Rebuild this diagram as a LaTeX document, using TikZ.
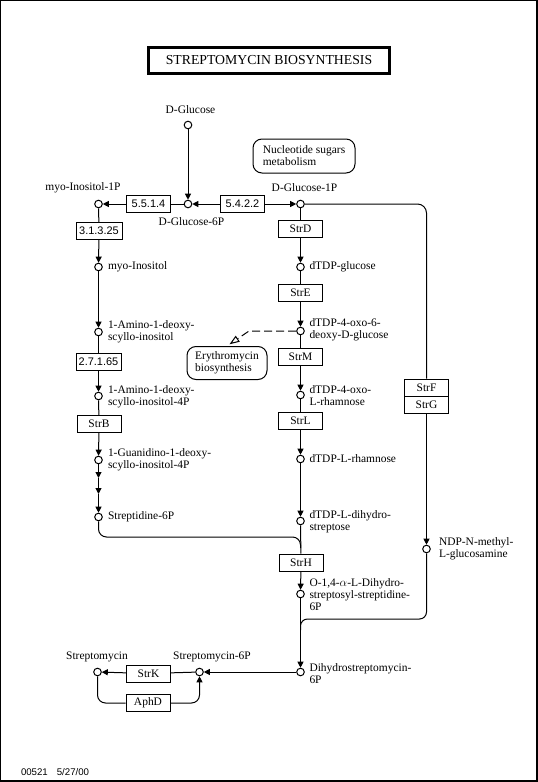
\documentclass[tikz,border=0pt]{standalone}
\usepackage{fontspec}
\setmainfont{Liberation Serif}
\setsansfont{Liberation Sans}
\usetikzlibrary{arrows.meta}
\newcommand\lblfont{\fontsize{11.5}{12}\selectfont}
\newcommand\ecfont{\sffamily\fontsize{11}{12}\selectfont}
\tikzset{
    cpd/.style={circle,draw,fill=white,inner sep=0pt,minimum size=7.6bp},
    enz/.style={draw,fill=white,inner sep=0pt,minimum width=44bp,minimum height=17bp,font=\lblfont},
    ec/.style={enz,font=\ecfont},
    pmap/.style={draw,rounded corners=9bp,align=left,inner sep=0pt,font=\lblfont},
    lbl/.style={inner sep=1bp,align=left,font=\lblfont},
    arr/.style={-{Triangle[length=6bp,width=6bp]}},
    maplink/.style={dash pattern=on 8bp off 4bp,-{Triangle[open,length=10bp,width=7bp]},shorten >=3bp},
}
\begin{document}
\begin{tikzpicture}[x=1bp,y=-1bp,line width=1bp]
    \useasboundingbox (0,0) rectangle (538,782);
    \draw [line width=1.5bp] (0.75,0.75) rectangle (537,781);
    \node [draw,line width=3bp,minimum width=241bp,minimum height=26bp,inner sep=0pt,font=\fontsize{13.8}{14}\selectfont] (title) at (269,60.5) {STREPTOMYCIN BIOSYNTHESIS};

    \node [cpd] (glc) at (188,125) {};
    \node [cpd] (myoonep) at (98.5,204) {};
    \node [cpd] (gsixp) at (188,204) {};
    \node [cpd] (gonep) at (300.5,204) {};
    \node [cpd] (myo) at (98.5,267) {};
    \node [cpd] (amino) at (98.5,332) {};
    \node [cpd] (aminop) at (98.5,396) {};
    \node [cpd] (guan) at (98.5,460) {};
    \node [cpd] (strdn) at (98.5,517) {};
    \node [cpd] (dtdpglc) at (300.5,267) {};
    \node [cpd] (oxodeoxy) at (300.5,331) {};
    \node [cpd] (oxorham) at (300.5,395) {};
    \node [cpd] (rham) at (300.5,459) {};
    \node [cpd] (dihydrose) at (300.5,521) {};
    \node [cpd] (dhsss) at (300.5,594) {};
    \node [cpd] (ndp) at (426.5,549) {};
    \node [cpd] (dhsm) at (300.5,672) {};
    \node [cpd] (smsixp) at (199.5,672) {};
    \node [cpd] (sm) at (97.5,672) {};
    \coordinate (ms1) at (98.5,478);
    \coordinate (ms2) at (98.5,494);
    \coordinate (mergea) at (300.5,548);
    \coordinate (mergeb) at (300.5,630);

    \node [ec] (e5514) at (148.5,204) {5.5.1.4};
    \node [ec] (e5422) at (242.5,204) {5.4.2.2};
    \node [ec,minimum width=46bp] (e31325) at (99,231) {3.1.3.25};
    \node [ec,minimum width=45bp] (e27165) at (98.5,362) {2.7.1.65};
    \node [enz] (strb) at (99,424) {StrB};
    \node [enz] (strd) at (300.5,228.5) {StrD};
    \node [enz] (stre) at (300.5,293) {StrE};
    \node [enz] (strm) at (300.5,357) {StrM};
    \node [enz] (strl) at (300.5,420.5) {StrL};
    \node [enz] (strh) at (301,562.5) {StrH};
    \node [enz] (strf) at (426.5,387.5) {StrF};
    \node [enz] (strg) at (426.5,404.5) {StrG};
    \node [enz] (strk) at (148.5,673.5) {StrK};
    \node [enz] (aphd) at (148,703) {AphD};

    \node [pmap,minimum width=102bp,minimum height=34bp] (nucsug) at (304,156) {Nucleotide sugars\\metabolism};
    \node [pmap,minimum width=80bp,minimum height=33bp] (ery) at (227,363) {Erythromycin\\biosynthesis};

    \foreach \a/\b in {glc/gsixp,e5514/myoonep,e5422/gsixp,e5422/gonep,myo/amino,guan/ms1,ms1/ms2,ms2/strdn,rham/dihydrose,dhsss/dhsm,dhsm/smsixp,strk/sm,strg/ndp}
        \draw [arr] (\a) -- (\b);
    \foreach \a/\e/\b in {myoonep/e31325/myo,amino/e27165/aminop,aminop/strb/guan,gonep/strd/dtdpglc,dtdpglc/stre/oxodeoxy,oxodeoxy/strm/oxorham,oxorham/strl/rham,dihydrose/strh/dhsss}{
        \draw (\a) -- (\e);
        \draw [arr] (\e) -- (\b);
    }
    \draw (gsixp) -- (e5514);
    \draw (smsixp) -- (strk);
    \draw [rounded corners=9bp] (gonep) -| (strf);
    \draw [rounded corners=8bp] (strdn) |- (300.5,537) -- (mergea);
    \draw [rounded corners=7bp] (ndp) |- (300.5,619) -- (mergeb);
    \draw [rounded corners=8bp] (sm) |- (aphd);
    \draw [arr,rounded corners=8bp] (aphd) -| (smsixp);
    \draw [maplink] (oxodeoxy) -- (249,331) -- (ery.north);

    \node [lbl] (glcl) at (190.5,110) {D-Glucose};
    \node [lbl] (myoonepl) at (83,187.5) {myo-Inositol-1P};
    \node [lbl] (gsixpl) at (191.5,222) {D-Glucose-6P};
    \node [lbl] (gonepl) at (304.5,187.5) {D-Glucose-1P};
    \node [lbl,anchor=west] (myol) at (106.5,267) {myo-Inositol};
    \node [lbl,anchor=west] (aminol) at (106.5,332) {1-Amino-1-deoxy-\\scyllo-inositol};
    \node [lbl,anchor=west] (aminopl) at (106.5,397) {1-Amino-1-deoxy-\\scyllo-inositol-4P};
    \node [lbl,anchor=west] (guanl) at (106.5,460) {1-Guanidino-1-deoxy-\\scyllo-inositol-4P};
    \node [lbl,anchor=west] (strdnl) at (106.5,517) {Streptidine-6P};
    \node [lbl,anchor=west] (dtdpglcl) at (308,267) {dTDP-glucose};
    \node [lbl,anchor=west] (oxodeoxyl) at (308,330) {dTDP-4-oxo-6-\\deoxy-D-glucose};
    \node [lbl,anchor=west] (oxorhaml) at (308,396) {dTDP-4-oxo-\\L-rhamnose};
    \node [lbl,anchor=west] (rhaml) at (308,459) {dTDP-L-rhamnose};
    \node [lbl,anchor=west] (dihydrosel) at (308,521.5) {dTDP-L-dihydro-\\streptose};
    \node [lbl,anchor=west] (dhsssl) at (308,594.5) {O-1,4-$\alpha$-L-Dihydro-\\streptosyl-streptidine-\\6P};
    \node [lbl,anchor=west] (ndpl) at (437.5,548.5) {NDP-N-methyl-\\L-glucosamine};
    \node [lbl,anchor=west] (dhsml) at (308,673.5) {Dihydrostreptomycin-\\6P};
    \node [lbl] (smsixpl) at (212,657) {Streptomycin-6P};
    \node [lbl] (sml) at (97,657) {Streptomycin};
    \node [anchor=west,inner sep=0pt,font=\sffamily\fontsize{9.7}{10}\selectfont] (mapid) at (20.5,772) {00521\hspace{9bp}5/27/00};
\end{tikzpicture}
\end{document}
